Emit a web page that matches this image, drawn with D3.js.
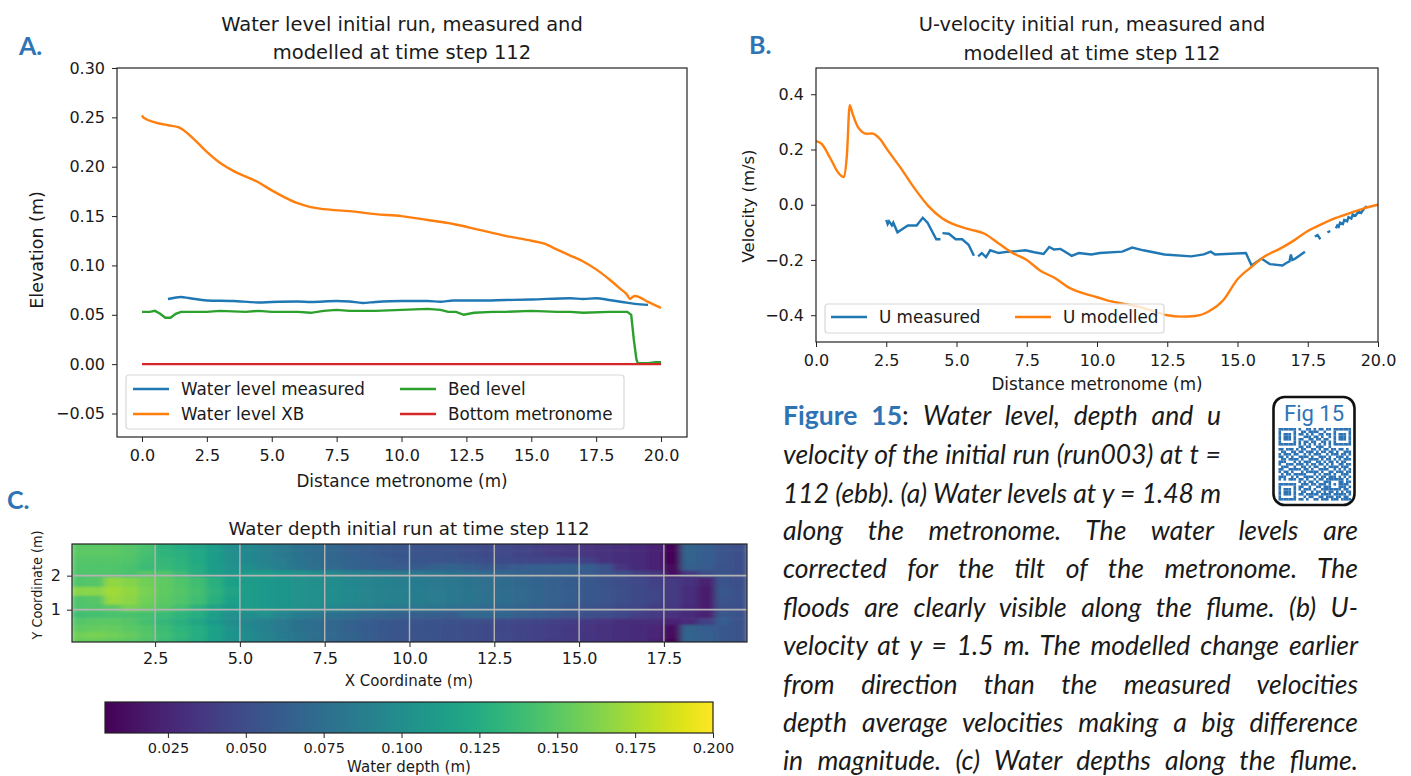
<!DOCTYPE html>
<html>
<head>
<meta charset="utf-8">
<script src="https://cdn.jsdelivr.net/npm/d3@7"></script>
<style>
  html, body { margin: 0; padding: 0; background: #fff; }
  text { font-family: "DejaVu Sans", sans-serif; fill: #1a1a1a; }
  .tick text { font-size: 16px; }
  .tick line, .domain { stroke: #222; }
</style>
</head>
<body>
<svg id="fig" width="1411" height="776"></svg>
<script>
// Panel A: water level along the metronome
const wlMeasuredX = [1, 1.2, 1.5, 1.8, 2.5, 3.5, 4.5, 5, 6, 6.5, 7.5, 8, 8.5, 9, 10, 11, 11.5, 12, 13, 14, 15, 16.5, 17, 17.5, 18, 18.5, 19, 19.5];
const wlMeasured = [0.066, 0.067, 0.068, 0.067, 0.0645, 0.064, 0.0625, 0.063, 0.0635, 0.063, 0.064, 0.0635, 0.062, 0.063, 0.064, 0.064, 0.0632, 0.0645, 0.0645, 0.065, 0.0655, 0.0668, 0.066, 0.0668, 0.065, 0.063, 0.061, 0.06];
const wlModelX = [0, 0.05, 0.1, 0.5, 1, 1.4, 2, 2.5, 3, 3.5, 4.5, 5, 5.5, 6, 6.5, 7, 8, 9, 10, 11, 12, 13, 14, 15, 15.5, 16, 16.5, 17, 17.5, 18, 18.4, 18.7, 18.8, 18.9, 19, 19.5, 20];
const wlModel = [0.252, 0.25, 0.249, 0.245, 0.242, 0.24, 0.228, 0.215, 0.204, 0.196, 0.184, 0.176, 0.169, 0.163, 0.159, 0.157, 0.155, 0.152, 0.15, 0.146, 0.142, 0.136, 0.13, 0.125, 0.122, 0.116, 0.11, 0.104, 0.096, 0.086, 0.077, 0.07, 0.066, 0.068, 0.069, 0.063, 0.057];
const bedX = [0, 0.3, 0.5, 0.7, 0.9, 1.1, 1.3, 1.5, 2, 2.5, 3, 4, 4.5, 5, 5.5, 6, 6.5, 7, 7.5, 8, 9, 10, 11, 11.5, 11.8, 12.1, 12.4, 12.8, 13.5, 14, 15, 16, 16.5, 17, 18, 18.7, 18.85, 18.95, 19.05, 19.1, 19.5, 19.8, 20];
const bed = [0.053, 0.053, 0.054, 0.051, 0.047, 0.047, 0.051, 0.053, 0.053, 0.053, 0.054, 0.053, 0.054, 0.053, 0.053, 0.053, 0.052, 0.054, 0.055, 0.054, 0.054, 0.055, 0.056, 0.055, 0.053, 0.053, 0.05, 0.052, 0.053, 0.053, 0.054, 0.053, 0.053, 0.052, 0.053, 0.053, 0.05, 0.025, 0.005, 0.001, 0.001, 0.002, 0.002];
const bottomX = [0, 20];
const bottom = [0, 0];
const elevTicks = [-0.05, 0, 0.05, 0.1, 0.15, 0.2, 0.25, 0.3];

// Panel B: U velocity
const uModelX = [0, 0.2, 0.5, 0.8, 1, 1.1, 1.2, 1.3, 1.5, 1.8, 2, 2.3, 2.5, 3, 3.5, 4, 4.5, 5, 5.5, 6, 6.5, 7, 7.5, 8, 8.5, 9, 9.5, 10, 10.5, 11, 11.5, 12, 12.5, 13, 13.5, 14, 14.5, 15, 15.5, 16, 16.5, 17, 17.5, 18, 18.5, 19, 19.5, 20];
const uModel = [0.23, 0.22, 0.17, 0.115, 0.1, 0.18, 0.36, 0.33, 0.28, 0.257, 0.258, 0.235, 0.205, 0.135, 0.06, -0.005, -0.05, -0.075, -0.09, -0.105, -0.14, -0.175, -0.2, -0.24, -0.265, -0.3, -0.32, -0.335, -0.35, -0.36, -0.37, -0.385, -0.4, -0.405, -0.403, -0.385, -0.345, -0.27, -0.225, -0.185, -0.16, -0.13, -0.095, -0.07, -0.048, -0.03, -0.013, 0];
// gaps in the measured line are kept as null
const uMeasuredX = [2.5, 2.55, 2.6, 2.7, 2.75, 2.9, 3.05, 3.27, 3.58, 3.8, 3.97, 4.28, 4.43, 4.44, 4.5, 4.73, 4.97, 5.2, 5.43, 5.62, 5.7, 5.77, 5.9, 6.05, 6.2, 6.5, 6.85, 7.15, 7.45, 7.77, 8.1, 8.3, 8.47, 8.7, 9.1, 9.35, 9.8, 10.1, 10.9, 11.25, 11.65, 12.4, 13.35, 13.8, 14.05, 14.2, 15.3, 15.5, 15.85, 16.15, 16.6, 16.75, 16.85, 16.9, 16.95, 17.05, 17.2, 17.4, 17.5, 17.75, 17.85, 17.95, 18, 18.2, 18.3, 18.4, 18.5, 18.55, 18.6, 18.65, 18.75, 18.8, 18.9, 18.95, 19.05, 19.1, 19.2, 19.3, 19.4, 19.5, 19.6];
const uMeasured = [-0.055, -0.07, -0.06, -0.075, -0.065, -0.1, -0.09, -0.075, -0.075, -0.047, -0.065, -0.125, -0.125, null, -0.103, -0.105, -0.125, -0.125, -0.145, -0.185, null, -0.187, -0.175, -0.19, -0.165, -0.175, -0.17, -0.168, -0.165, -0.172, -0.178, -0.153, -0.162, -0.16, -0.185, -0.175, -0.18, -0.175, -0.17, -0.155, -0.165, -0.18, -0.187, -0.18, -0.17, -0.18, -0.175, -0.22, -0.195, -0.215, -0.22, -0.21, -0.205, -0.18, -0.2, -0.195, -0.185, -0.17, null, -0.115, -0.11, -0.125, null, -0.1, -0.095, null, -0.085, -0.075, -0.08, -0.065, -0.07, -0.055, -0.06, -0.045, -0.05, -0.035, -0.04, -0.025, -0.03, -0.015, -0.005];
const velTicks = [-0.4, -0.2, 0, 0.2, 0.4];
const distTicks = [0, 2.5, 5, 7.5, 10, 12.5, 15, 17.5, 20];

// Panel C: water depth in mm, rows run from the top of the flume to the bottom
const depthX = [0.25, 0.75, 1.25, 1.75, 2.25, 2.75, 3.25, 3.75, 4.25, 4.75, 5.25, 5.75, 6.25, 6.75, 7.25, 7.75, 8.25, 8.75, 9.25, 9.75, 10.25, 10.75, 11.25, 11.75, 12.25, 12.75, 13.25, 13.75, 14.25, 14.75, 15.25, 15.75, 16.25, 16.75, 17.25, 17.75, 18.25, 18.75, 19.25, 19.75];
const depthYEdges = [2.93, 2.75, 2.55, 2.35, 2.15, 1.95, 1.67, 1.41, 1.15, 0.95, 0.75, 0.55, 0.35, 0.15, 0.05];
const depthRows = [
  [150,150,150,148,143,130,125,120,112,100,95,90,84,78,73,69,65,62,59,57,56,54,53,51,49,47,44,41,38,36,34,32,30,28,24,8,66,62,56,52],
  [150,150,150,148,142,131,128,122,112,101,95,90,84,78,73,69,65,62,59,57,56,54,53,51,49,47,44,41,38,36,34,32,30,28,24,8,66,62,56,52],
  [148,148,148,146,140,134,130,123,112,102,96,91,85,79,74,70,66,63,60,58,57,56,55,53,50,48,46,45,44,44,42,33,31,28,24,8,66,62,56,52],
  [146,146,146,144,138,136,132,124,113,104,100,94,88,81,75,71,67,64,62,60,61,64,66,62,58,57,60,62,63,64,62,54,34,29,24,9,65,60,55,52],
  [146,146,146,144,148,146,138,126,115,108,112,113,108,104,100,96,91,88,85,84,82,80,78,75,72,69,66,63,62,62,60,56,50,42,36,14,36,50,54,52],
  [146,148,168,164,158,152,146,140,128,115,112,110,107,104,101,99,96,93,90,88,86,84,82,79,76,73,70,67,64,61,58,55,51,47,42,38,32,22,54,52],
  [165,165,172,168,160,152,148,142,130,118,112,110,107,105,102,100,97,94,91,89,87,85,83,80,77,74,71,68,65,62,59,56,52,49,44,38,30,18,58,53],
  [146,148,170,166,158,151,146,140,128,116,112,110,107,105,102,100,97,94,91,89,87,85,83,80,77,74,71,68,65,62,59,56,52,49,44,38,30,20,56,53],
  [146,146,150,160,155,148,142,130,118,110,112,110,106,103,100,96,92,89,86,84,82,80,77,75,72,69,66,63,60,58,55,52,48,44,40,36,28,20,52,52],
  [140,142,144,144,142,138,132,126,114,102,100,102,94,86,82,78,74,70,68,65,64,62,60,70,70,68,64,61,58,55,52,50,48,42,38,32,28,22,58,54],
  [148,150,150,148,142,134,128,120,110,100,94,89,84,78,74,70,66,62,59,57,56,54,53,52,50,48,46,44,42,40,37,34,31,30,30,24,28,42,62,54],
  [152,154,154,150,146,138,132,126,116,104,96,90,84,78,74,70,65,61,58,56,54,53,52,50,48,46,44,42,40,37,34,32,30,28,25,14,66,62,58,54],
  [158,160,158,154,148,140,133,126,116,106,98,92,86,80,75,71,66,62,58,55,54,53,52,50,49,47,45,43,40,37,35,32,30,28,25,10,68,64,58,54],
  [155,155,152,150,146,138,130,124,114,104,97,91,85,79,74,70,66,62,59,56,55,54,52,50,49,47,45,42,39,37,35,32,30,28,24,8,68,64,58,54]
];
const depthXTicks = [2.5, 5, 7.5, 10, 12.5, 15, 17.5];
const depthYTicks = [1, 2];
const cbarTicks = [0.025, 0.05, 0.075, 0.1, 0.125, 0.15, 0.175, 0.2];

// Caption text and QR pattern
const captionLines = [
  "along the metronome. The water levels are",
  "corrected for the tilt of the metronome. The",
  "floods are clearly visible along the flume. (b) U-",
  "velocity at y = 1.5 m. The modelled change earlier",
  "from direction than the measured velocities",
  "depth average velocities making a big difference",
  "in magnitude. (c) Water depths along the flume."
];
const qrRows = [
  "11111110100110101101101111111",
  "10000010011011110010001000001",
  "10111010110101001101101011101",
  "10111010001110110100101011101",
  "10111010110011011011001011101",
  "10000010101101100110101000001",
  "11111110101010101010101111111",
  "00000000110110011100100000000",
  "11011101011001101011011011010",
  "01100110110111010110110100111",
  "10111011001010111001011101101",
  "11010100111101001110100111010",
  "01101111010011110101101010111",
  "11100010101110011010110101100",
  "10011101110101101101010011011",
  "01110010011010110010111101110",
  "11001111101101001111001010101",
  "10110100010111110100110111011",
  "01011011111000101011101001110",
  "11100101001111010110111010101",
  "10101110110100101101111111010",
  "00000000101011010011100011011",
  "11111110011101101110101011110",
  "10000010110010011011100011101",
  "10111010101110100111111110110",
  "10111010011001011010110101011",
  "10111010110111110111101111101",
  "10000010001011001101110110110",
  "11111110110100110111011101111"
];

const blue = "#1f77b4", orange = "#ff7f0e", green = "#2ca02c", red = "#d62728";
const accent = "#2e74b5";
const svg = d3.select("#fig");

// Helpers
function frame(box) {
  svg.append("rect").attr("x", box.l).attr("y", box.t)
    .attr("width", box.r - box.l).attr("height", box.b - box.t)
    .attr("fill", "none").attr("stroke", "#222").attr("stroke-width", 1.2);
}
function drawAxis(axis, tx, ty, pad) {
  const g = svg.append("g").attr("transform", `translate(${tx},${ty})`)
    .call(axis.tickSizeOuter(0).tickSize(5).tickPadding(pad));
  g.select(".domain").remove();
  return g;
}
function centered(str, x, y, size) {
  return svg.append("text").attr("x", x).attr("y", y).attr("text-anchor", "middle")
    .attr("font-size", size).text(str);
}
function rotated(str, x, y, size) {
  return svg.append("text").attr("transform", `translate(${x},${y}) rotate(-90)`)
    .attr("text-anchor", "middle").attr("font-size", size).text(str);
}
function drawLine(xs, ys, x, y, color, curve) {
  const line = d3.line().defined(d => d[1] !== null).x(d => x(d[0])).y(d => y(d[1])).curve(curve);
  svg.append("path").datum(d3.zip(xs, ys)).attr("d", line)
    .attr("fill", "none").attr("stroke", color).attr("stroke-width", 2.4);
}
function legend(box, items) {
  svg.append("rect").attr("x", box.l).attr("y", box.t).attr("rx", 3)
    .attr("width", box.r - box.l).attr("height", box.b - box.t)
    .attr("fill", "#fff").attr("fill-opacity", 0.8).attr("stroke", "#d8d8d8").attr("stroke-width", 1.2);
  items.forEach(it => {
    svg.append("line").attr("x1", it.x).attr("x2", it.x + 36).attr("y1", it.y).attr("y2", it.y)
      .attr("stroke", it.color).attr("stroke-width", 2.4);
    svg.append("text").attr("x", it.x + 48).attr("y", it.y + 6).attr("font-size", 16.8).text(it.label);
  });
}
function letter(str, x, y) {
  svg.append("text").attr("x", x).attr("y", y).attr("font-size", 25).attr("font-weight", 700)
    .style("font-family", "Lato, sans-serif").style("fill", accent).text(str);
}

// Panel A
const boxA = { l: 117, r: 687, t: 68, b: 437 };
const xA = d3.scaleLinear().domain([-0.963, 21]).range([boxA.l, boxA.r]);
const yA = d3.scaleLinear().domain([-0.0738, 0.3]).range([boxA.b, boxA.t]);
drawLine(wlMeasuredX, wlMeasured, xA, yA, blue, d3.curveMonotoneX);
drawLine(wlModelX, wlModel, xA, yA, orange, d3.curveMonotoneX);
drawLine(bedX, bed, xA, yA, green, d3.curveLinear);
drawLine(bottomX, bottom, xA, yA, red, d3.curveLinear);
frame(boxA);
drawAxis(d3.axisBottom(xA).tickValues(distTicks).tickFormat(d3.format(".1f")), 0, boxA.b, 8);
drawAxis(d3.axisLeft(yA).tickValues(elevTicks).tickFormat(d => d3.format(".2f")(d).replace("-", "\u2212")), boxA.l, 0, 7);
centered("Water level initial run, measured and", 402, 31, 19.5);
centered("modelled at time step 112", 402, 59, 19.5);
centered("Distance metronome (m)", 402, 487, 16.8);
rotated("Elevation (m)", 43, 250, 17.5);
legend({ l: 126, r: 624, t: 375, b: 429 }, [
  { x: 133, y: 389, color: blue, label: "Water level measured" },
  { x: 133, y: 414, color: orange, label: "Water level XB" },
  { x: 400, y: 389, color: green, label: "Bed level" },
  { x: 400, y: 414, color: red, label: "Bottom metronome" }
]);

// Panel B
const boxB = { l: 816, r: 1378, t: 68, b: 342 };
const xB = d3.scaleLinear().domain([0, 20]).range([boxB.l, boxB.r]);
const yB = d3.scaleLinear().domain([-0.497, 0.495]).range([boxB.b, boxB.t]);
drawLine(uMeasuredX, uMeasured, xB, yB, blue, d3.curveLinear);
drawLine(uModelX, uModel, xB, yB, orange, d3.curveMonotoneX);
frame(boxB);
drawAxis(d3.axisBottom(xB).tickValues(distTicks).tickFormat(d3.format(".1f")), 0, boxB.b, 8);
drawAxis(d3.axisLeft(yB).tickValues(velTicks).tickFormat(d => d3.format(".1f")(d).replace("-", "\u2212")), boxB.l, 0, 7);
centered("U-velocity initial run, measured and", 1092, 31, 19.4);
centered("modelled at time step 112", 1092, 60, 19.4);
centered("Distance metronome (m)", 1097, 390, 16.8);
rotated("Velocity (m/s)", 754, 206, 16.5);
legend({ l: 825, r: 1164, t: 304, b: 333 }, [
  { x: 831, y: 317, color: blue, label: "U measured" },
  { x: 1015, y: 317, color: orange, label: "U modelled" }
]);

// Panel C
const boxC = { l: 72, r: 747, t: 544, b: 642 };
const xC = d3.scaleLinear().domain([0.05, 19.95]).range([boxC.l, boxC.r]);
const yC = d3.scaleLinear().domain([0.05, 2.93]).range([boxC.b, boxC.t]);
const depthColor = d3.scaleSequential(d3.interpolateViridis).domain([5, 200]);
const defs = svg.append("defs");
defs.append("clipPath").attr("id", "clipC").append("rect")
  .attr("x", boxC.l).attr("y", boxC.t).attr("width", boxC.r - boxC.l).attr("height", boxC.b - boxC.t);
defs.append("filter").attr("id", "soft").attr("x", "-2%").attr("y", "-5%").attr("width", "104%").attr("height", "110%")
  .append("feGaussianBlur").attr("stdDeviation", "3 1.3");
const cellsClip = svg.append("g").attr("clip-path", "url(#clipC)");
const cells = cellsClip.append("g").attr("filter", "url(#soft)");
depthRows.forEach((row, r) => {
  cells.selectAll(null).data(row).enter().append("rect")
    .attr("x", (d, c) => xC(depthX[c] - 0.25))
    .attr("width", xC(0.5) - xC(0) + 0.5)
    .attr("y", yC(depthYEdges[r]) - (r === 0 ? 6 : 0))
    .attr("height", yC(depthYEdges[r + 1]) - yC(depthYEdges[r]) + (r === 0 || r === depthRows.length - 1 ? 6 : 0) + 0.5)
    .attr("fill", d => depthColor(d));
});
const gridC = svg.append("g").attr("stroke", "#b4b4b4");
gridC.selectAll("line.v").data(depthXTicks).enter().append("line").attr("class", "v")
  .attr("x1", d => xC(d)).attr("x2", d => xC(d)).attr("y1", boxC.t).attr("y2", boxC.b).attr("stroke-width", 1.4);
gridC.selectAll("line.h").data(depthYTicks).enter().append("line").attr("class", "h")
  .attr("x1", boxC.l).attr("x2", boxC.r).attr("y1", d => yC(d)).attr("y2", d => yC(d)).attr("stroke-width", 1.8);
frame(boxC);
drawAxis(d3.axisBottom(xC).tickValues(depthXTicks).tickFormat(d3.format(".1f")), 0, boxC.b, 6);
drawAxis(d3.axisLeft(yC).tickValues(depthYTicks).tickFormat(d3.format("d")), boxC.l, 0, 6);
centered("Water depth initial run at time step 112", 409, 535, 18.2);
centered("X Coordinate (m)", 409, 686, 15);
rotated("Y Coordinate (m)", 42, 585, 14.5).attr("textLength", 109).attr("lengthAdjust", "spacingAndGlyphs");

// Colorbar
const boxBar = { l: 105, r: 713, t: 702, b: 733 };
const xBar = d3.scaleLinear().domain([0.0048, 0.2]).range([boxBar.l, boxBar.r]);
const gradient = defs.append("linearGradient").attr("id", "viridisBar");
d3.range(0, 1.001, 0.05).forEach(t => {
  gradient.append("stop").attr("offset", t).attr("stop-color", d3.interpolateViridis(t));
});
svg.append("rect").attr("x", boxBar.l).attr("y", boxBar.t)
  .attr("width", boxBar.r - boxBar.l).attr("height", boxBar.b - boxBar.t)
  .attr("fill", "url(#viridisBar)").attr("stroke", "#222").attr("stroke-width", 1.2);
drawAxis(d3.axisBottom(xBar).tickValues(cbarTicks).tickFormat(d3.format(".3f")), 0, boxBar.b, 5)
  .selectAll("text").style("font-size", "14.5px");
centered("Water depth (m)", 409, 772, 15);

// Panel letters
letter("A.", 19, 55);
letter("B.", 749, 54);
letter("C.", 7, 509);

// Caption, justified by widening the word gaps
const capFont = "Lato, sans-serif";
const capSize = 26.5;
function justify(node, width) {
  const sel = d3.select(node);
  const gaps = sel.text().split(" ").length - 1;
  const extra = (width - node.getComputedTextLength()) / gaps;
  sel.attr("word-spacing", extra);
}
const first = svg.append("text").attr("x", 783).attr("y", 425).attr("font-size", capSize)
  .style("font-family", capFont).attr("font-style", "italic");
first.append("tspan").attr("font-weight", 700).attr("font-style", "normal").style("fill", accent).text("Figure 15");
first.append("tspan").attr("font-style", "normal").text(": ");
first.append("tspan").text("Water level, depth and u");
justify(first.node(), 438);
const second = svg.append("text").attr("x", 783).attr("y", 464).attr("font-size", capSize)
  .style("font-family", capFont).attr("font-style", "italic").text("velocity of the initial run (run003) at t =");
justify(second.node(), 438);
const third = svg.append("text").attr("x", 783).attr("y", 502.5).attr("font-size", capSize)
  .style("font-family", capFont).attr("font-style", "italic").text("112 (ebb). (a) Water levels at y = 1.48 m");
justify(third.node(), 438);
captionLines.forEach((str, i) => {
  const t = svg.append("text").attr("x", 783).attr("y", 540 + i * 38.4).attr("font-size", capSize)
    .style("font-family", capFont).attr("font-style", "italic").text(str);
  justify(t.node(), 575);
});

// QR badge
svg.append("rect").attr("x", 1273.5).attr("y", 397).attr("width", 81).attr("height", 108).attr("rx", 11)
  .attr("fill", "#fff").attr("stroke", "#111").attr("stroke-width", 2.6);
svg.append("text").attr("x", 1314).attr("y", 421).attr("text-anchor", "middle").attr("font-size", 22)
  .style("font-family", "Roboto, sans-serif").style("fill", accent).text("Fig 15");
const qrSize = 2.5;
const qrCells = qrRows.flatMap((row, r) => row.split("").map((v, c) => ({ r, c, v }))).filter(d => d.v === "1");
svg.append("g").attr("fill", accent).selectAll("rect").data(qrCells).enter().append("rect")
  .attr("x", d => 1278.5 + d.c * qrSize)
  .attr("y", d => 428 + d.r * qrSize)
  .attr("width", qrSize + 0.1)
  .attr("height", qrSize + 0.1);
</script>
</body>
</html>
